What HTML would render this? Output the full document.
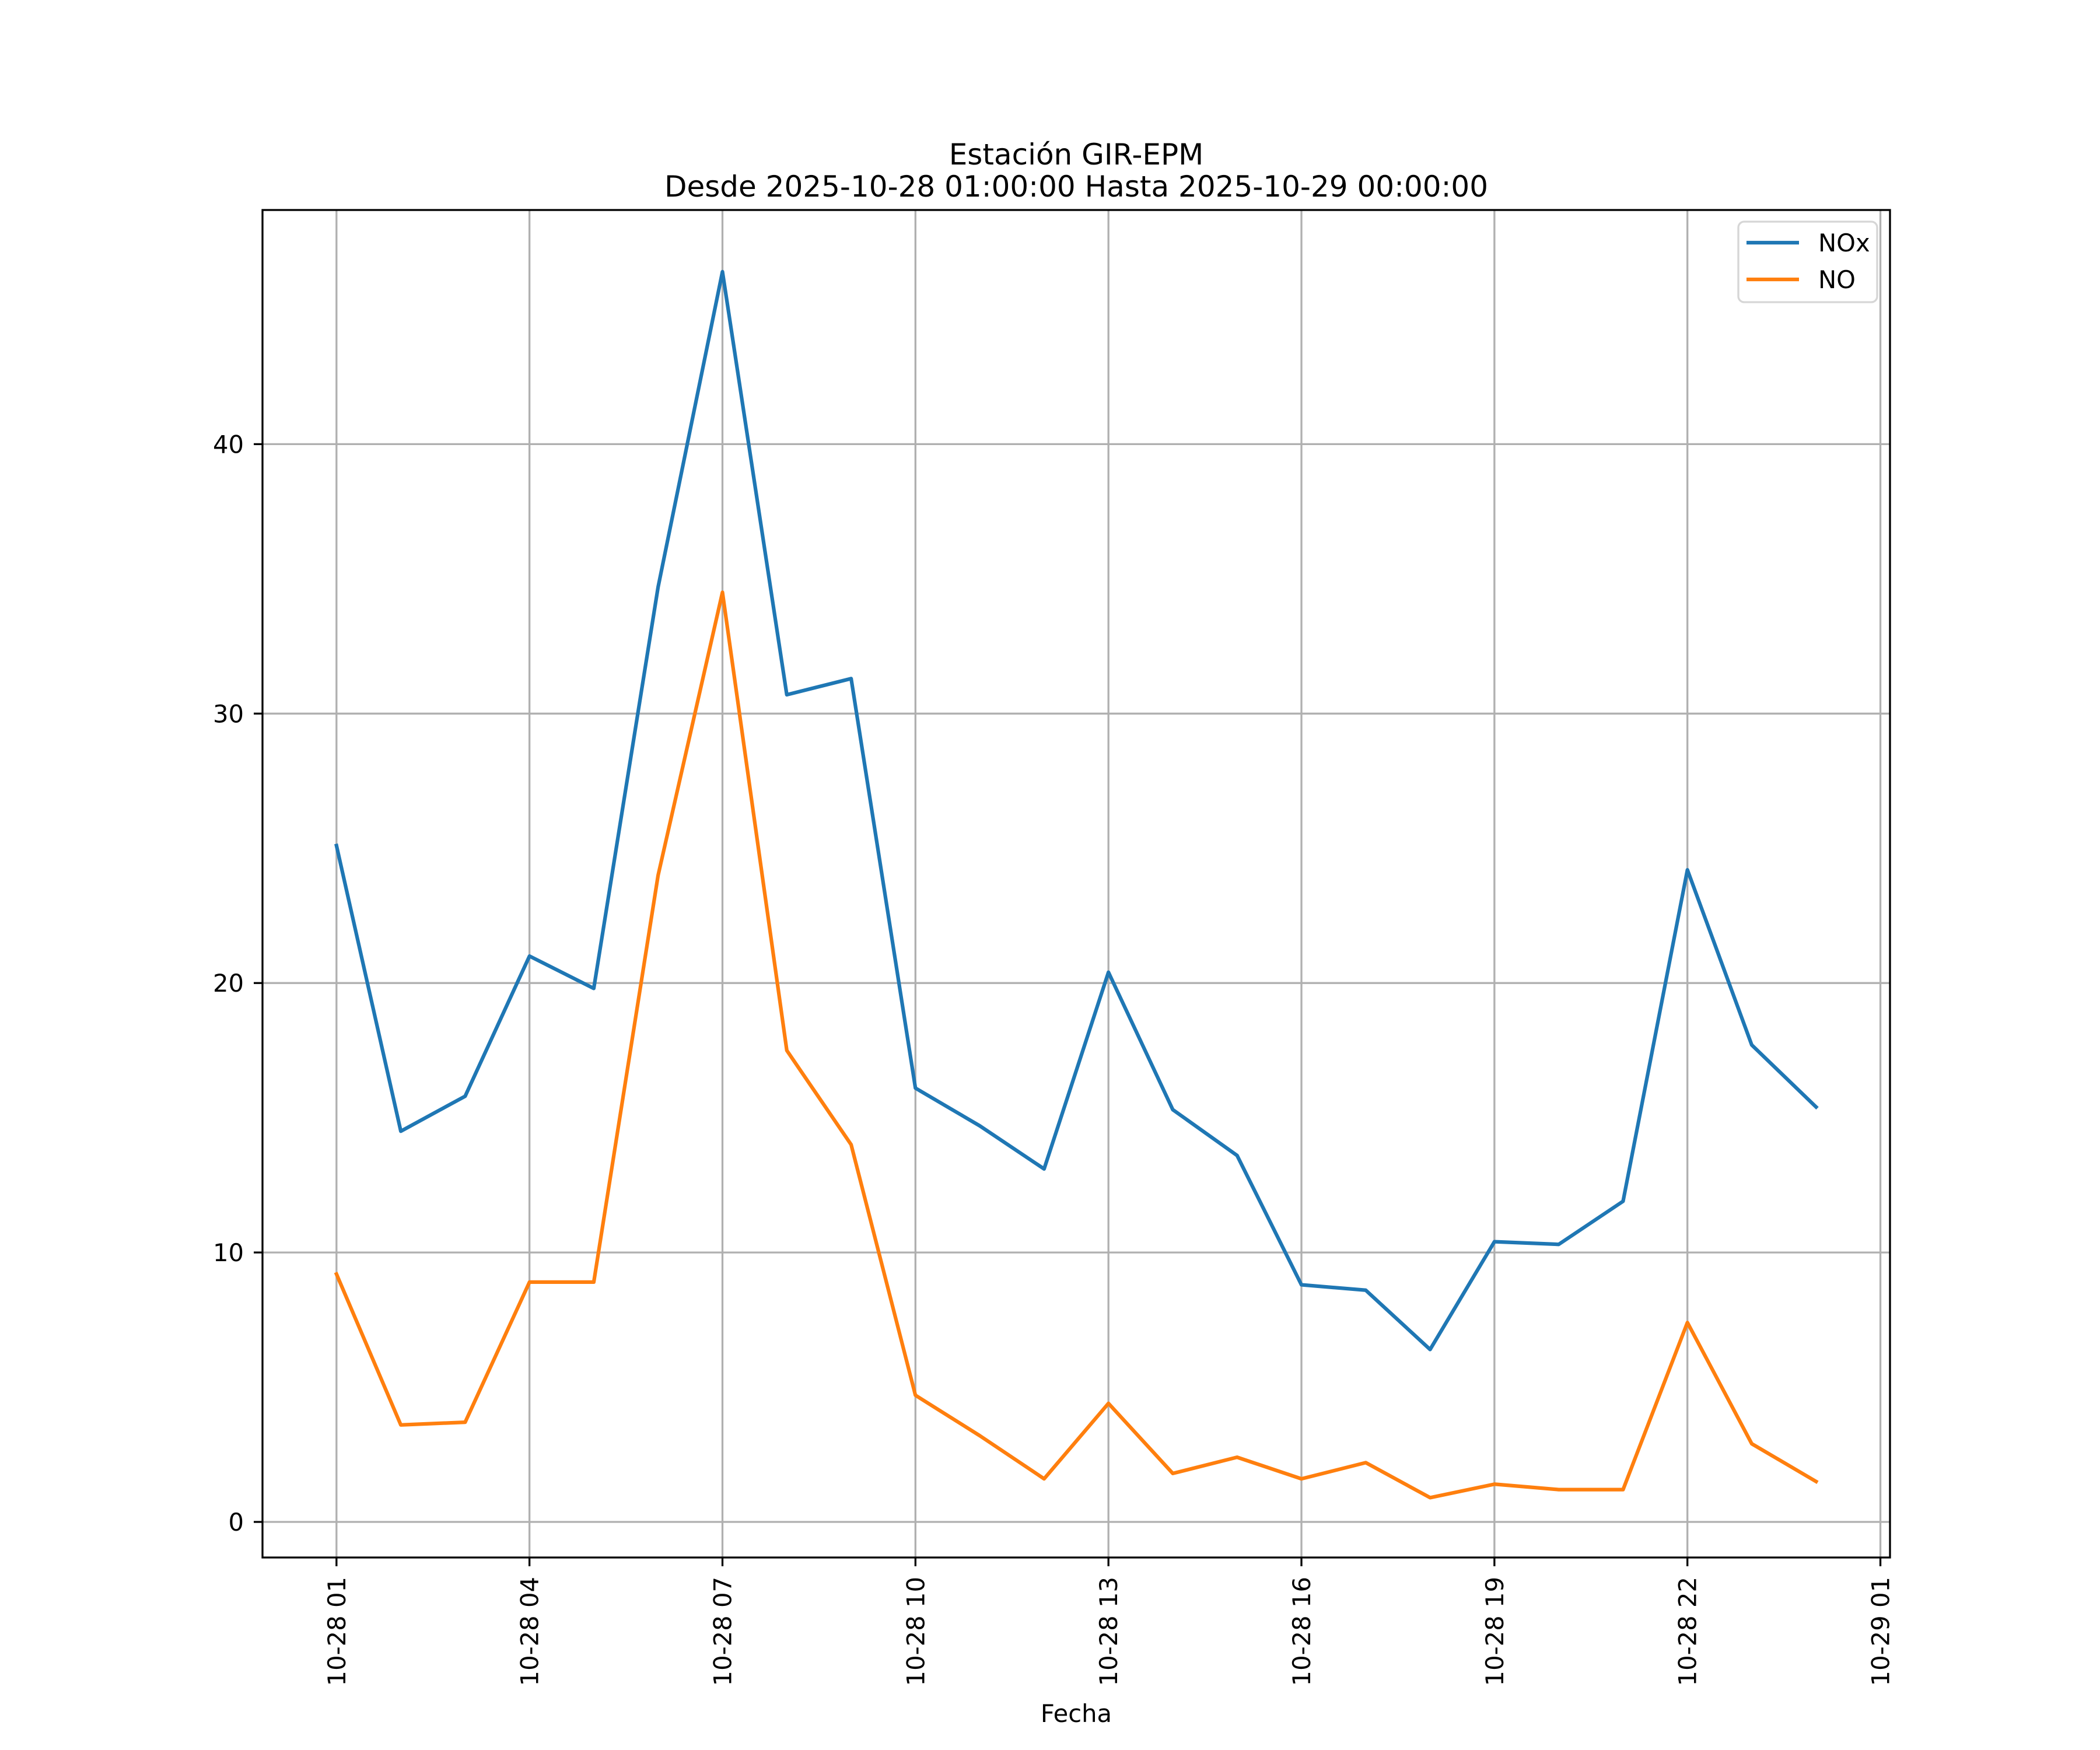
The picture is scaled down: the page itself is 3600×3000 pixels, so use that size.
<!DOCTYPE html>
<html><head><meta charset="utf-8"><style>html,body{margin:0;padding:0;background:#fff}svg{display:block}text{font-family:"DejaVu Sans","Liberation Sans",sans-serif}</style></head>
<body>
<svg id="chart" width="3600" height="3000" viewBox="0 0 3600 3000" xmlns="http://www.w3.org/2000/svg">
<rect width="3600" height="3000" fill="#fff"/>
<g id="grid"></g>
<g id="series"></g>
<rect x="450" y="360" width="2790" height="2310" fill="none" stroke="#000" stroke-width="3.3"/>
<g id="ticks"></g>
<text x="1845" y="282" font-size="50" text-anchor="middle">Estación GIR-EPM</text>
<text x="1845" y="337" font-size="50" text-anchor="middle">Desde 2025-10-28 01:00:00 Hasta 2025-10-29 00:00:00</text>
<text x="1845" y="2952" font-size="41.7" text-anchor="middle">Fecha</text>
<g>
<rect x="2980" y="380" width="238" height="138" rx="10" fill="#fff" fill-opacity="0.8" stroke="#d6d6d6" stroke-width="3.3"/>
<g><line x1="2994" y1="416" x2="3084" y2="416" stroke="#1f77b4" stroke-width="6.25"/><text x="3117" y="431" font-size="41.7">NOx</text></g>
<g><line x1="2994" y1="479" x2="3084" y2="479" stroke="#ff7f0e" stroke-width="6.25"/><text x="3117" y="494" font-size="41.7">NO</text></g>
</g>
</svg>
<script>
const hours = [1,2,3,4,5,6,7,8,9,10,11,12,13,14,15,16,17,18,19,20,21,22,23,24];
const noxValues = [25.1,14.5,15.8,21.0,19.8,34.7,46.4,30.7,31.3,16.1,14.7,13.1,20.4,15.3,13.6,8.8,8.6,6.4,10.4,10.3,11.9,24.2,17.7,15.4];
const noValues = [9.2,3.6,3.7,8.9,8.9,24.0,34.5,17.5,14.0,4.7,3.2,1.6,4.4,1.8,2.4,1.6,2.2,0.9,1.4,1.2,1.2,7.4,2.9,1.5];
const xTickHours = [1,4,7,10,13,16,19,22,25];
const xTickLabels = ["10-28 01","10-28 04","10-28 07","10-28 10","10-28 13","10-28 16","10-28 19","10-28 22","10-29 01"];
const yTicks = [0,10,20,30,40];

const NS = "http://www.w3.org/2000/svg";
function xs(h){ return 450 + (h+0.15)*110.28; }
function ys(v){ return 2609 - v*46.19; }
function mk(tag, attrs, parent){ const e=document.createElementNS(NS,tag); for(const k in attrs) e.setAttribute(k,attrs[k]); parent.appendChild(e); return e; }
const grid=document.getElementById('grid'), ticks=document.getElementById('ticks'), series=document.getElementById('series');
xTickHours.forEach((h,i)=>{
  const x=xs(h);
  const g=mk('line',{x1:x,y1:360,x2:x,y2:2670,stroke:'#b0b0b0','stroke-width':3.3},grid);
  
  
  const t=mk('line',{x1:x,y1:2670,x2:x,y2:2685,stroke:'#000','stroke-width':3.3},ticks);
  
  
  const l=mk('text',{transform:`translate(${x+15},2703) rotate(-90)`,'font-size':41.7,'text-anchor':'end'},ticks);
  l.textContent=xTickLabels[i];
  
  
});
yTicks.forEach(v=>{
  const y=ys(v);
  const g=mk('line',{x1:450,y1:y,x2:3240,y2:y,stroke:'#b0b0b0','stroke-width':3.3},grid);
  
  
  const t=mk('line',{x1:435,y1:y,x2:450,y2:y,stroke:'#000','stroke-width':3.3},ticks);
  
  
  const l=mk('text',{x:418,y:y+15,'font-size':41.7,'text-anchor':'end'},ticks);
  l.textContent=String(v);
  
  
});
function drawLine(vals,color,name){
  const d=vals.map((v,i)=>(i?'L':'M')+xs(hours[i]).toFixed(1)+' '+ys(v).toFixed(1)).join(' ');
  const p=mk('path',{d:d,fill:'none',stroke:color,'stroke-width':6.25,'stroke-linejoin':'round','stroke-linecap':'square'},series);
  
  
}
drawLine(noxValues,'#1f77b4','nox-line');
drawLine(noValues,'#ff7f0e','no-line');
</script>
</body></html>
